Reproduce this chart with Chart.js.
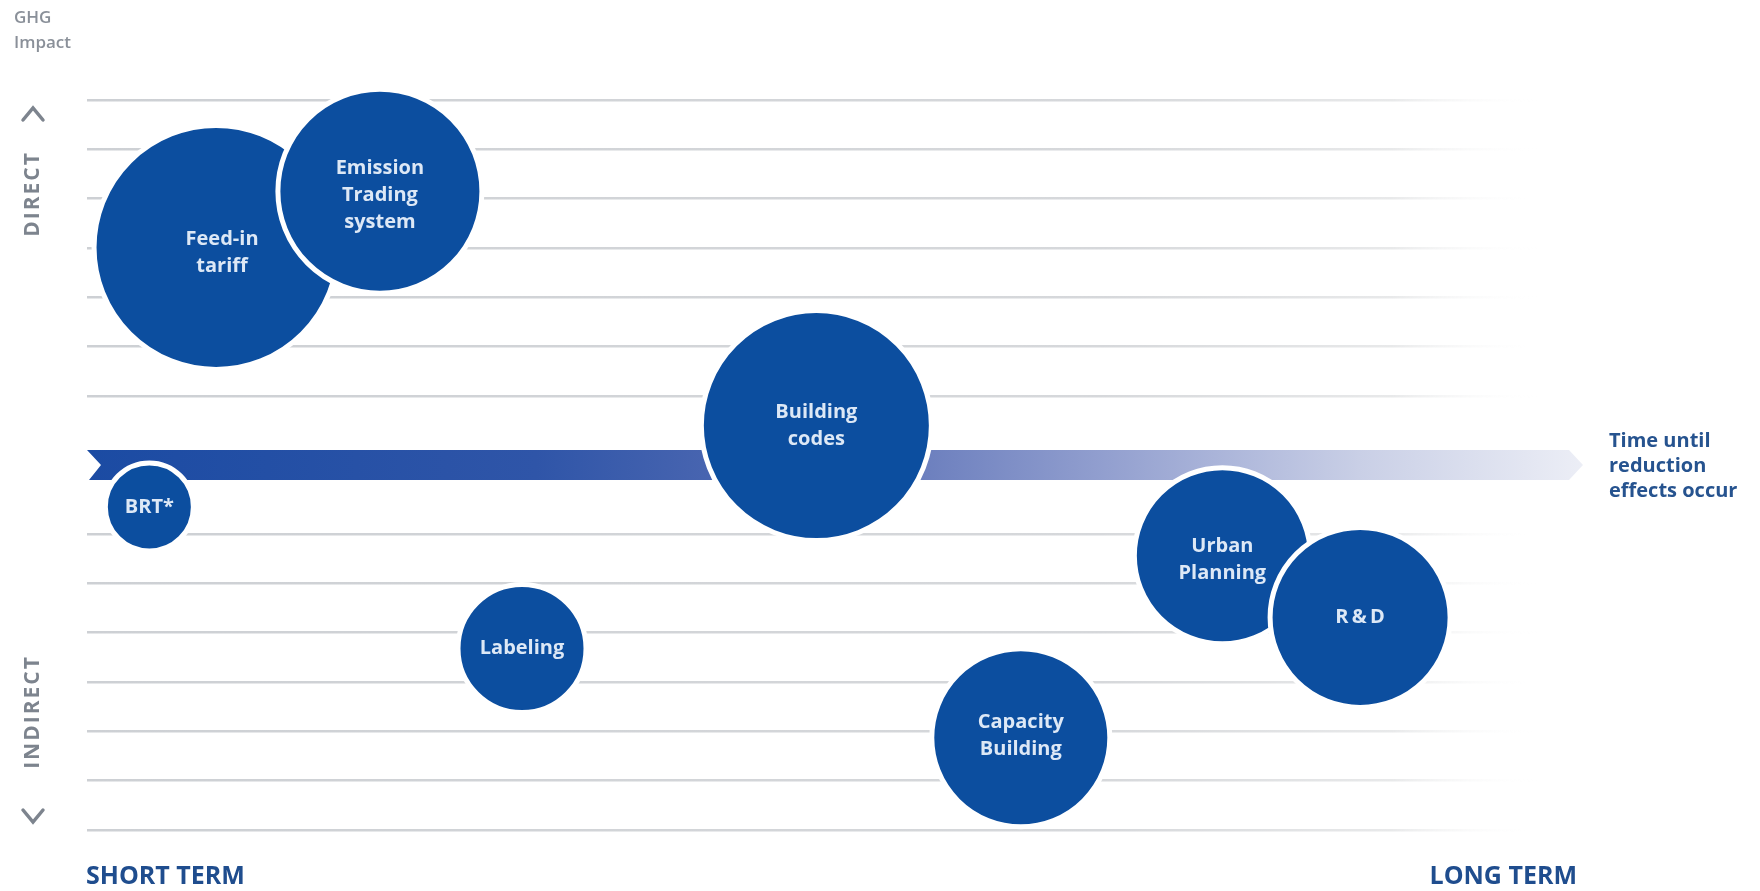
<!DOCTYPE html>
<html>
<head>
<meta charset="utf-8">
<script src="https://cdn.jsdelivr.net/npm/chart.js@4.4.0/dist/chart.umd.min.js"></script>
<style>
    html, body { margin: 0; padding: 0; background: #ffffff; }
    #wrap { position: relative; width: 1760px; height: 891px; }
</style>
</head>
<body>
<div id="wrap"><canvas id="policyChart"></canvas></div>
<script>
// policy instruments, one bubble each
var policyNames = [
    ['Feed-in', 'tariff'],
    ['Emission', 'Trading', 'system'],
    ['Building', 'codes'],
    ['BRT*'],
    ['Labeling'],
    ['Capacity', 'Building'],
    ['Urban', 'Planning'],
    ['R\u2009&\u2009D']
];
// x: time until reduction effects occur (0 = short term, 10 = long term)
var timeToEffect = [0.89, 2.02, 5.03, 0.43, 3.0, 6.44, 7.83, 8.78];
// y: GHG impact (+ direct, - indirect)
var ghgImpact = [4.41, 5.55, 0.80, -0.85, -3.72, -5.53, -1.84, -3.09];
// bubble radius in px
var bubbleSize = [122, 102, 115, 44, 64, 89, 88, 90];
// horizontal guide lines
var gridLevels = [7.4, 6.4, 5.4, 4.4, 3.4, 2.4, 1.4, -1.4, -2.4, -3.4, -4.4, -5.4, -6.4, -7.4];

var bubbleBlue = '#0c4e9f';

(function () {
    var area = document.getElementById('policyChart');

    var datasets = policyNames.map(function (name, i) {
        return {
            label: name.join(' '),
            data: [{ x: timeToEffect[i], y: ghgImpact[i], r: bubbleSize[i] }],
            backgroundColor: bubbleBlue,
            borderColor: '#ffffff',
            borderWidth: 5,
            hoverBorderWidth: 5,
            clip: false,
            order: -i
        };
    });

    // time arrow behind the bubbles
    var arrowPlugin = {
        id: 'timeArrow',
        beforeDatasetsDraw: function (chart) {
            var ctx = chart.ctx;
            var a = chart.chartArea;
            var y = chart.scales.y.getPixelForValue(0);
            var h = 15;
            var x0 = a.left, x1 = a.right + 32, xt = a.right + 46;
            var g = ctx.createLinearGradient(x0, 0, xt, 0);
            g.addColorStop(0, '#1b4ba3');
            g.addColorStop(0.3, '#2f55a8');
            g.addColorStop(0.5, '#5a70b6');
            g.addColorStop(0.68, '#929fcf');
            g.addColorStop(0.85, '#c9cfe6');
            g.addColorStop(1, '#eceef6');
            ctx.save();
            ctx.fillStyle = g;
            ctx.beginPath();
            ctx.moveTo(x0, y - h);
            ctx.lineTo(x1, y - h);
            ctx.lineTo(xt, y);
            ctx.lineTo(x1, y + h);
            ctx.lineTo(x0 + 2, y + h);
            ctx.lineTo(x0 + 14, y);
            ctx.closePath();
            ctx.fill();
            ctx.restore();
        }
    };

    // caption nudges (px) so text sits where the original had it
    var captionShiftX = [6, 0, 0, 0, 0, 0, 0, 0];
    var captionShiftY = [5, 4, 0, 0, 0, -2, 4, 0];

    // bubble captions, drawn right after each bubble so later bubbles cover them
    var captionPlugin = {
        id: 'captions',
        afterDatasetDraw: function (chart, args) {
            var ctx = chart.ctx;
            var el = args.meta.data[0];
            var i = args.index;
            var lines = policyNames[i];
            var lh = 27;
            ctx.save();
            ctx.font = 'bold 20px "Open Sans"';
            ctx.fillStyle = '#dde8f6';
            ctx.textAlign = 'center';
            ctx.textBaseline = 'middle';
            var top = el.y - (lines.length - 1) * lh / 2 + captionShiftY[i];
            lines.forEach(function (t, k) {
                ctx.fillText(t, el.x + captionShiftX[i], top + k * lh);
            });
            ctx.restore();
        }
    };

    // axis captions around the plot
    var framePlugin = {
        id: 'frameText',
        afterDraw: function (chart) {
            var ctx = chart.ctx;
            ctx.save();
            ctx.fillStyle = '#8a9099';
            ctx.font = '600 17px "Open Sans"';
            ctx.textAlign = 'left';
            ctx.textBaseline = 'middle';
            ctx.fillText('GHG', 14, 18);
            ctx.fillText('Impact', 14, 43);

            // chevrons
            ctx.strokeStyle = '#7d848e';
            ctx.lineWidth = 3.5;
            ctx.lineCap = 'round';
            ctx.beginPath();
            ctx.moveTo(23, 120); ctx.lineTo(33, 108); ctx.lineTo(43, 120);
            ctx.stroke();
            ctx.beginPath();
            ctx.moveTo(23, 810); ctx.lineTo(33, 822); ctx.lineTo(43, 810);
            ctx.stroke();

            ctx.fillStyle = '#7d848e';
            ctx.font = 'bold 21px "Open Sans"';
            ctx.textAlign = 'center';
            ctx.letterSpacing = '2px';
            ctx.save();
            ctx.translate(33, 194);
            ctx.rotate(-Math.PI / 2);
            ctx.fillText('DIRECT', 0, 0);
            ctx.restore();
            ctx.save();
            ctx.translate(33, 712);
            ctx.rotate(-Math.PI / 2);
            ctx.fillText('INDIRECT', 0, 0);
            ctx.restore();

            ctx.letterSpacing = '0px';
            ctx.fillStyle = '#1f4d8e';
            ctx.font = 'bold 25px "Open Sans"';
            ctx.textAlign = 'left';
            ctx.fillText('SHORT TERM', 86, 877);
            ctx.textAlign = 'right';
            ctx.fillText('LONG TERM', 1577, 877);

            ctx.fillStyle = '#26538f';
            ctx.font = 'bold 20px "Open Sans"';
            ctx.textAlign = 'left';
            ctx.fillText('Time until', 1609, 441);
            ctx.fillText('reduction', 1609, 466);
            ctx.fillText('effects occur', 1609, 491);
            ctx.restore();
        }
    };

    new Chart(area, {
        type: 'bubble',
        data: { datasets: datasets },
        plugins: [arrowPlugin, captionPlugin, framePlugin],
        options: {
            responsive: true,
            maintainAspectRatio: false,
            animation: false,
            events: [],
            layout: { autoPadding: false, padding: { left: 87, right: 223, top: 100, bottom: 61 } },
            plugins: { legend: { display: false }, tooltip: { enabled: false } },
            scales: {
                x: { type: 'linear', min: 0, max: 10, display: false },
                y: {
                    type: 'linear',
                    min: -7.4,
                    max: 7.4,
                    afterBuildTicks: function (scale) {
                        scale.ticks = gridLevels.map(function (v) { return { value: v }; });
                    },
                    ticks: { display: false },
                    border: { display: false },
                    grid: {
                        drawTicks: false,
                        lineWidth: 2.5,
                        color: function (c) {
                            var a = c.chart.chartArea;
                            if (!a) return '#d4d7db';
                            var g = c.chart.ctx.createLinearGradient(a.left, 0, a.right, 0);
                            g.addColorStop(0, '#cdd0d4');
                            g.addColorStop(0.7, '#d6d8db');
                            g.addColorStop(0.9, '#e8e9ea');
                            g.addColorStop(1, 'rgba(255,255,255,0)');
                            return g;
                        }
                    }
                }
            }
        }
    });
})();
</script>
</body>
</html>
